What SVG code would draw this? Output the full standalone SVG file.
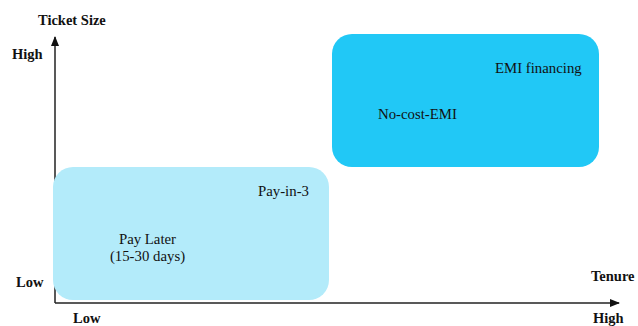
<svg xmlns="http://www.w3.org/2000/svg" width="638" height="326" viewBox="0 0 638 326">
<style>
text{font-family:"Liberation Serif","DejaVu Serif",serif;font-size:14.8px;fill:#111}
.b{font-weight:bold;font-size:14.5px}
.ax{stroke:#222;stroke-width:1.5;fill:none}
</style>
<defs>
<marker id="ah" markerWidth="10" markerHeight="8" refX="9" refY="4" orient="auto" markerUnits="userSpaceOnUse">
<path d="M0,0 L10,4 L0,8 z" fill="#111"/>
</marker>
</defs>
<rect width="638" height="326" fill="#fff"/>
<g id="connectors">
<path class="ax" d="M55,303 L55,37" marker-end="url(#ah)"/>
<path class="ax" d="M55,303 L619,303" marker-end="url(#ah)"/>
</g>
<g id="axis-labels">
<text class="b" x="38" y="25">Ticket Size</text>
<text class="b" x="12" y="59">High</text>
<text class="b" x="16" y="287">Low</text>
<text class="b" x="73" y="323">Low</text>
<text class="b" x="593" y="323">High</text>
<text class="b" x="591" y="281">Tenure</text>
</g>
<g id="node-low">
<rect x="53" y="167" width="276" height="133" rx="20" fill="#B3EBFA"/>
<text x="258" y="196">Pay-in-3</text>
<text x="147.5" y="244" text-anchor="middle">Pay Later</text>
<text x="147.5" y="261" text-anchor="middle">(15-30 days)</text>
</g>
<g id="node-high">
<rect x="332" y="34" width="267" height="133" rx="20" fill="#21C8F6"/>
<text x="495" y="73">EMI financing</text>
<text x="378" y="119">No-cost-EMI</text>
</g>
</svg>
